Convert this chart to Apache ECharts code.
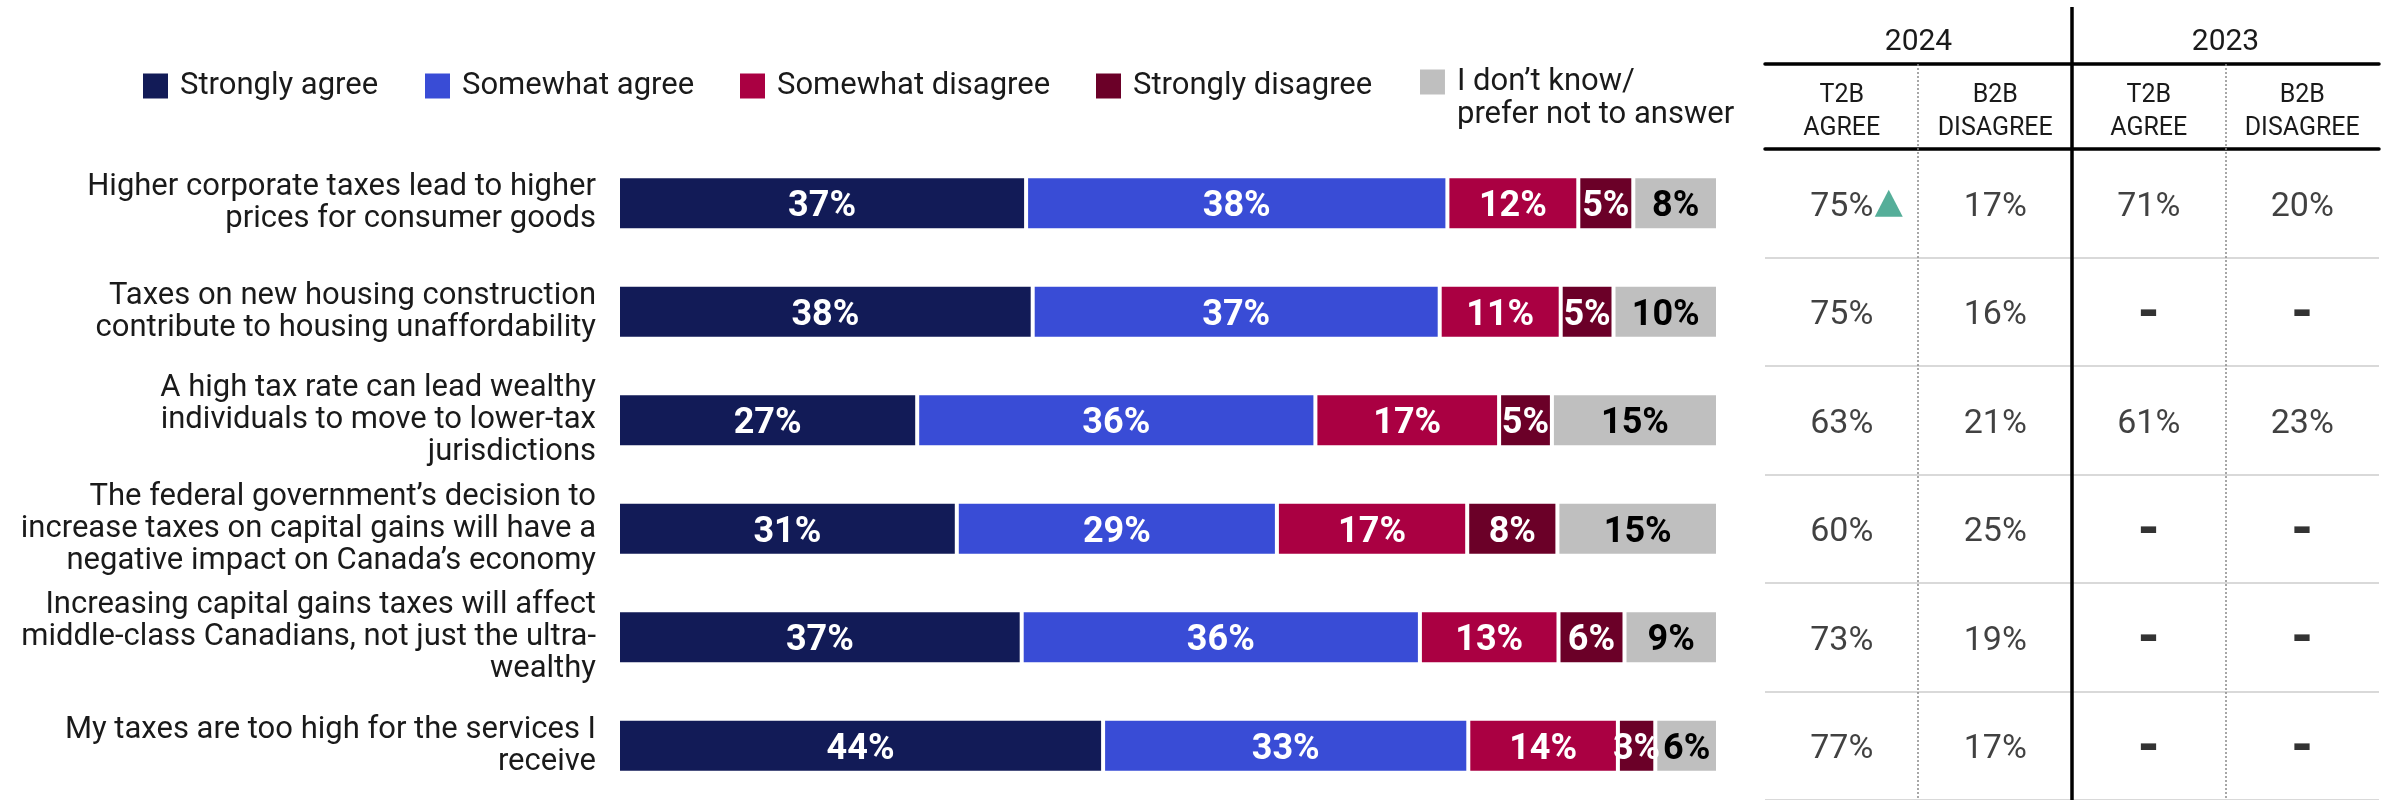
<!DOCTYPE html>
<html>
<head>
<meta charset="utf-8">
<script src="https://cdn.jsdelivr.net/npm/echarts@6/dist/echarts.min.js"></script>
<style>
  html, body { margin: 0; padding: 0; background: #fff; }
  #chart { width: 2395px; height: 800px; }
</style>
</head>
<body>
<div id="chart"></div>
<script>
// ---- Data ----
const categories = [
  'Higher corporate taxes lead to higher\nprices for consumer goods',
  'Taxes on new housing construction\ncontribute to housing unaffordability',
  'A high tax rate can lead wealthy\nindividuals to move to lower-tax\njurisdictions',
  'The federal government\u2019s decision to\nincrease taxes on capital gains will have a\nnegative impact on Canada\u2019s economy',
  'Increasing capital gains taxes will affect\nmiddle-class Canadians, not just the ultra-\nwealthy',
  'My taxes are too high for the services I\nreceive'
];
const seriesNames = ['Strongly agree', 'Somewhat agree', 'Somewhat disagree', 'Strongly disagree', 'I don\u2019t know/\nprefer not to answer'];
const stronglyAgree    = [37.1, 37.7, 27.2, 30.8, 36.7, 44.1];
const somewhatAgree    = [38.3, 37.0, 36.2, 29.1, 36.2, 33.2];
const somewhatDisagree = [11.9, 11.0, 16.7, 17.3, 12.6, 13.6];
const stronglyDisagree = [5.0, 4.8, 4.8, 8.2, 6.0, 3.4];
const dontKnow         = [7.7, 9.5, 15.1, 14.6, 8.5, 5.7];

const yearHeaders = ['2024', '2023'];
const tableColumns = ['T2B\nAGREE', 'B2B\nDISAGREE', 'T2B\nAGREE', 'B2B\nDISAGREE'];
const t2b2024 = [75, 75, 63, 60, 73, 77];
const b2b2024 = [17, 16, 21, 25, 19, 17];
const t2b2023 = [71, null, 61, null, null, null];
const b2b2023 = [20, null, 23, null, null, null];
const sigUp2024 = [true, false, false, false, false, false];

// ---- Styles ----
const colors = ['#121b57', '#394cd6', '#aa0042', '#6b0028', '#bfbfbf'];
const labelColors = ['#fff', '#fff', '#fff', '#fff', '#000'];
const seriesValues = [stronglyAgree, somewhatAgree, somewhatDisagree, stronglyDisagree, dontKnow];
const legendLeft = [143, 425, 740, 1096, 1420];

const GRID_TOP = 149, GRID_H = 654;
const TABLE_L = 1765, TABLE_W = 614;

const chart = echarts.init(document.getElementById('chart'));

const legends = seriesNames.map((name, i) => {
  const multi = name.indexOf('\n') >= 0;
  return {
    data: [name],
    left: legendLeft[i],
    top: multi ? 65.5 : 69.5,
    padding: 0,
    // for the two-line item the square sits at the top of a taller (invisible) icon box,
    // so the first text line lines up with it
    icon: multi ? 'path://M0,0h25v25h-25zM0,58h0.1v0.1h-0.1z' : 'rect',
    itemWidth: 25,
    itemHeight: multi ? 58 : 25,
    itemStyle: { borderWidth: 0 },
    selectedMode: false,
    textStyle: {
      fontFamily: 'Roboto', fontSize: 31, color: '#1a1a1a', lineHeight: 33,
      padding: [0, 0, 0, 7]
    }
  };
});

const barSeries = seriesValues.map((vals, i) => ({
  name: seriesNames[i],
  type: 'bar',
  stack: 'total',
  xAxisIndex: 0,
  yAxisIndex: 0,
  barWidth: 54,
  data: vals,
  itemStyle: { color: colors[i], borderColor: '#fff', borderWidth: 2 },
  label: {
    show: true,
    position: 'inside',
    offset: [0, 4],
    formatter: (p) => Math.round(p.value) + '%',
    color: labelColors[i],
    fontFamily: 'Roboto',
    fontWeight: 700,
    fontSize: 36
  }
}));

const tableArrays = [t2b2024, b2b2024, t2b2023, b2b2023];
const tableSeries = tableArrays.map((arr, c) => ({
  type: 'scatter',
  xAxisIndex: 1,
  yAxisIndex: 1,
  symbolSize: 1,
  itemStyle: { color: 'transparent' },
  data: arr.map((v, r) => [c, r]),
  label: {
    show: true,
    position: 'inside',
    offset: [0, 4],
    formatter: (p) => {
      const v = arr[p.dataIndex];
      return v == null ? '{d|-}' : '{v|' + v + '%}';
    },
    rich: {
      v: { fontFamily: 'Roboto', fontSize: 34, color: '#111' },
      d: { fontFamily: 'Roboto', fontWeight: 900, fontSize: 52, color: '#000' }
    }
  },
  z: 5
}));

const triangleSeries = {
  type: 'scatter',
  xAxisIndex: 1,
  yAxisIndex: 1,
  symbol: 'triangle',
  symbolSize: [28, 27],
  symbolOffset: [47, 0],
  itemStyle: { color: '#2a9a80' },
  data: sigUp2024.map((s, r) => s ? [0, r] : null).filter(d => d),
  z: 6
};

const option = {
  animation: false,
  backgroundColor: '#fff',
  legend: legends,
  grid: [
    { left: 618, width: 1100, top: GRID_TOP, height: GRID_H },
    { left: TABLE_L, width: TABLE_W, top: GRID_TOP, height: GRID_H }
  ],
  xAxis: [
    { type: 'value', gridIndex: 0, min: 0, max: 100, show: false },
    {
      type: 'category', gridIndex: 1, data: tableColumns, position: 'top',
      axisLine: { show: true, lineStyle: { color: '#000', width: 3.5 } },
      axisTick: { show: false },
      splitLine: { show: false },
      axisLabel: { fontFamily: 'Roboto', fontSize: 25, lineHeight: 33, color: '#1a1a1a', margin: 4, interval: 0 }
    },
    {
      type: 'category', gridIndex: 1, data: yearHeaders, position: 'top', offset: 85,
      axisLine: { show: true, lineStyle: { color: '#000', width: 3.5 } },
      axisTick: { show: false },
      splitLine: { show: false },
      axisLabel: { fontFamily: 'Roboto', fontSize: 30, lineHeight: 34, color: '#1a1a1a', margin: 5, interval: 0 }
    }
  ],
  yAxis: [
    {
      type: 'category', gridIndex: 0, data: categories, inverse: true,
      axisLine: { show: false }, axisTick: { show: false },
      axisLabel: { fontFamily: 'Roboto', fontSize: 31, lineHeight: 32, color: '#1a1a1a', margin: 22, align: 'right' }
    },
    {
      type: 'category', gridIndex: 1, data: categories, inverse: true,
      axisLine: { show: false }, axisTick: { show: false }, axisLabel: { show: false },
      splitLine: { show: true, lineStyle: { color: '#d9d9d9', width: 2 } }
    }
  ],
  series: barSeries.concat(tableSeries, [triangleSeries]),
  graphic: [
    { type: 'line', shape: { x1: 1918, y1: 64, x2: 1918, y2: 800 }, style: { stroke: '#8a8a8a', lineWidth: 1.5, lineDash: [2, 2] }, z: 10 },
    { type: 'line', shape: { x1: 2226, y1: 64, x2: 2226, y2: 800 }, style: { stroke: '#8a8a8a', lineWidth: 1.5, lineDash: [2, 2] }, z: 10 },
    { type: 'line', shape: { x1: 2072, y1: 7, x2: 2072, y2: 800 }, style: { stroke: '#000', lineWidth: 3.5 }, z: 11 }
  ]
};
chart.setOption(option);
</script>
</body>
</html>
